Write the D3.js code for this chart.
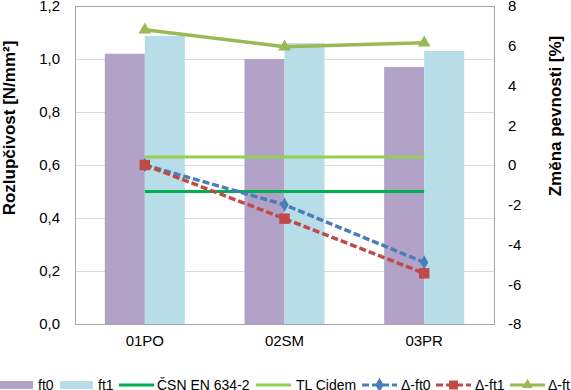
<!DOCTYPE html>
<html><head><meta charset="utf-8">
<script src="https://cdn.jsdelivr.net/npm/d3@7"></script>
<style>body{margin:0;background:#fff;}svg{display:block;font-family:"Liberation Sans",Arial,sans-serif;}</style>
</head><body><svg id="c" width="571" height="390"></svg>
<script>
const categories = ["01PO","02SM","03PR"];
const ft0 = [1.02, 1.00, 0.97];
const ft1 = [1.087, 1.06, 1.03];
const csn = [0.50, 0.50, 0.50];
const tlCidem = [0.63, 0.63, 0.63];
const dft0 = [0.0, -2.0, -4.9];
const dft1 = [0.0, -2.7, -5.45];
const dft = [6.8, 5.95, 6.15];
const leftTicks = [0,0.2,0.4,0.6,0.8,1.0,1.2];
const rightTicks = [-8,-6,-4,-2,0,2,4,6,8];

const svg = d3.select("#c");
const L=75, R=494, T=6, B=324;
const x = d3.scaleBand().domain(categories).range([L,R]).padding(0);
const y = d3.scaleLinear().domain([0,1.2]).range([B,T]);
const y2 = d3.scaleLinear().domain([-8,8]).range([B,T]);
const fmt = d => d3.format(".1f")(d).replace(".",",");
const bw = x.bandwidth()*0.2864;
const cx = c => x(c)+x.bandwidth()/2;

// gridlines
svg.append("g").selectAll("line").data(leftTicks).join("line")
  .attr("x1",L).attr("x2",R).attr("y1",d=>y(d)).attr("y2",d=>y(d))
  .attr("stroke","#d9d9d9").attr("stroke-width",1).attr("shape-rendering","crispEdges");

// bars
const g = svg.append("g");
g.selectAll(".b0").data(categories).join("rect")
  .attr("x",c=>cx(c)-bw).attr("width",bw)
  .attr("y",(c,i)=>y(ft0[i])).attr("height",(c,i)=>B-y(ft0[i])).attr("fill","#b3a2c7");
g.selectAll(".b1").data(categories).join("rect")
  .attr("x",c=>cx(c)).attr("width",bw)
  .attr("y",(c,i)=>y(ft1[i])).attr("height",(c,i)=>B-y(ft1[i])).attr("fill","#b7dde8");

// border
svg.append("rect").attr("x",L).attr("y",T).attr("width",R-L).attr("height",B-T)
  .attr("fill","none").attr("stroke","#a6a6a6").attr("shape-rendering","crispEdges");

// axes
const ax = svg.append("g").attr("transform",`translate(0,${B})`)
  .call(d3.axisBottom(x).tickSize(0).tickPadding(11));
ax.select(".domain").remove();
ax.selectAll("text").attr("font-size",15).attr("fill","#000").attr("font-family","Liberation Sans, Arial, sans-serif");
const ay = svg.append("g").attr("transform",`translate(${L},0)`)
  .call(d3.axisLeft(y).tickValues(leftTicks).tickFormat(fmt).tickSize(0).tickPadding(15));
ay.select(".domain").remove();
ay.selectAll("text").attr("font-size",15).attr("fill","#000").attr("font-family","Liberation Sans, Arial, sans-serif");
const ay2 = svg.append("g").attr("transform",`translate(${R},0)`)
  .call(d3.axisRight(y2).tickValues(rightTicks).tickFormat(d=>d<0?"-"+Math.abs(d):d).tickSize(0).tickPadding(14));
ay2.select(".domain").remove();
ay2.selectAll("text").attr("font-size",15).attr("fill","#000").attr("font-family","Liberation Sans, Arial, sans-serif");

// titles
svg.append("text").attr("transform","translate(15,128) rotate(-90)").attr("text-anchor","middle")
  .attr("font-size",17).attr("font-weight","bold").attr("fill","#000").text("Rozlupčivost [N/mm²]");
svg.append("text").attr("transform","translate(561,116) rotate(-90)").attr("text-anchor","middle")
  .attr("font-size",17).attr("font-weight","bold").attr("fill","#000").text("Změna pevnosti [%]");

// lines
function line(vals, sc, color, dash, width){
  const ln = d3.line().x((d,i)=>cx(categories[i])).y(d=>sc(d));
  svg.append("path").datum(vals).attr("d",ln).attr("fill","none").attr("stroke",color)
    .attr("stroke-width",width).attr("stroke-dasharray",dash||null);
}
line(csn, y, "#00b050", null, 3);
line(tlCidem, y, "#92d050", null, 3);
line(dft0, y2, "#4a7ebb", "7,3", 3.5);
line(dft1, y2, "#be4b48", "7,3", 3.5);
line(dft, y2, "#98b954", null, 3.5);

function markers(vals, color, type, size){
  svg.append("g").selectAll("path").data(vals).join("path")
    .attr("transform",(d,i)=>`translate(${cx(categories[i])},${y2(d)})`)
    .attr("d",d3.symbol().type(type).size(size)).attr("fill",color);
}
markers(dft0,"#4a7ebb",d3.symbolDiamond,60);
markers(dft1,"#be4b48",d3.symbolSquare,110);
markers(dft,"#98b954",d3.symbolTriangle,70);

// legend
const ly = 385;
const lg = svg.append("g").attr("font-size",14).attr("fill","#000");
function legText(xp, t){ lg.append("text").attr("x",xp).attr("y",ly+5).text(t); }
lg.append("rect").attr("x",0).attr("y",ly-4).attr("width",33).attr("height",8).attr("fill","#b3a2c7");
legText(38,"ft0");
lg.append("rect").attr("x",60).attr("y",ly-4).attr("width",33).attr("height",8).attr("fill","#b7dde8");
legText(98,"ft1");
function legLine(x0, color, dash, sym, ssize){
  lg.append("line").attr("x1",x0).attr("x2",x0+35).attr("y1",ly).attr("y2",ly)
    .attr("stroke",color).attr("stroke-width",3).attr("stroke-dasharray",dash||null);
  if(sym) lg.append("path").attr("transform",`translate(${x0+17.5},${ly})`)
    .attr("d",d3.symbol().type(sym).size(ssize)).attr("fill",color);
}
legLine(119,"#00b050");
legText(157,"ČSN EN 634-2");
legLine(256,"#92d050");
legText(296,"TL Cidem");
legLine(362,"#4a7ebb","7,3",d3.symbolDiamond,60);
legText(401,"Δ-ft0");
legLine(436,"#be4b48","7,3",d3.symbolSquare,80);
legText(475,"Δ-ft1");
legLine(510,"#98b954",null,d3.symbolTriangle,50);
legText(548,"Δ-ft");
</script></body></html>
